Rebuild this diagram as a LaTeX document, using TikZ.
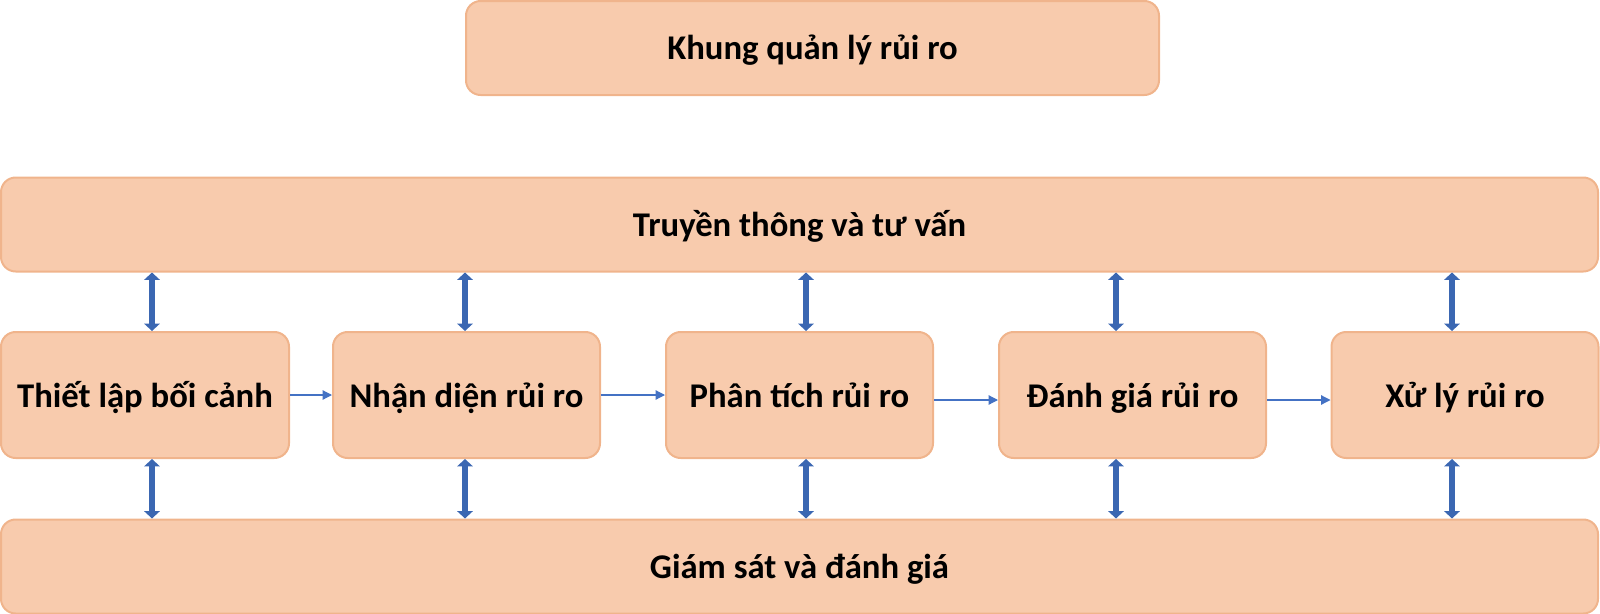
\documentclass[tikz,border=0pt]{standalone}
\usepackage{fontspec}
\setmainfont{Carlito}
\usetikzlibrary{arrows.meta}
\definecolor{peach}{HTML}{F8CBAD}
\definecolor{peachline}{HTML}{F0B48C}
\definecolor{linkblue}{HTML}{3B67B2}
\definecolor{flowblue}{HTML}{4472C4}

\begin{document}
\begin{tikzpicture}[
  x=0.75pt, y=-0.75pt,
  box/.style={draw=peachline, fill=peach, line width=1.5pt, rounded corners=11pt,
    font=\fontsize{26}{31}\selectfont\bfseries, align=center, inner sep=0pt,
    text height=24pt, text depth=6pt},
  band/.style={box, minimum width=1597*0.75pt, minimum height=94*0.75pt},
  stage/.style={box, minimum width=267*0.75pt, minimum height=126*0.75pt},
  link/.style={line width=4.5pt, draw=linkblue,
    {Triangle[width=11.5pt,length=5.5pt]}-{Triangle[width=11.5pt,length=5.5pt]}},
  flow/.style={line width=0.9pt, draw=flowblue, -{Triangle[width=7pt,length=7pt]}}
]
  \useasboundingbox (0,0) rectangle (1600,614);

  \node[box, minimum width=693*0.75pt, minimum height=94*0.75pt] (frame) at (812.5,48)
    {Khung quản lý rủi ro};
  \node[band] (comm) at (799.5,224.5) {Truyền thông và tư vấn};
  \node[band] (monitor) at (799.5,566.5) {Giám sát và đánh giá};

  \node[stage, minimum width=288*0.75pt] (s1) at (145,395) {Thiết lập bối cảnh};
  \node[stage] (s2) at (466.5,395) {Nhận diện rủi ro};
  \node[stage] (s3) at (799.5,395) {Phân tích rủi ro};
  \node[stage] (s4) at (1132.5,395) {Đánh giá rủi ro};
  \node[stage] (s5) at (1465,395) {Xử lý rủi ro};

  % links to the two bands
  \foreach \s/\dx in {s1/7, s2/-1.5, s3/6.5, s4/-16.5, s5/-13} {
    \draw[link] ([xshift=\dx*0.75pt]\s.north |- comm.south) -- ([xshift=\dx*0.75pt]\s.north);
    \draw[link] ([xshift=\dx*0.75pt]\s.south) -- ([xshift=\dx*0.75pt]\s.south |- monitor.north);
  }

  % process flow
  \draw[flow] (s1) -- (s2);
  \draw[flow] (s2) -- (s3);
  \draw[flow] ([yshift=-3.75pt]s3.east) -- ([yshift=-3.75pt]s4.west);
  \draw[flow] ([yshift=-3.75pt]s4.east) -- ([yshift=-3.75pt]s5.west);
\end{tikzpicture}
\end{document}
